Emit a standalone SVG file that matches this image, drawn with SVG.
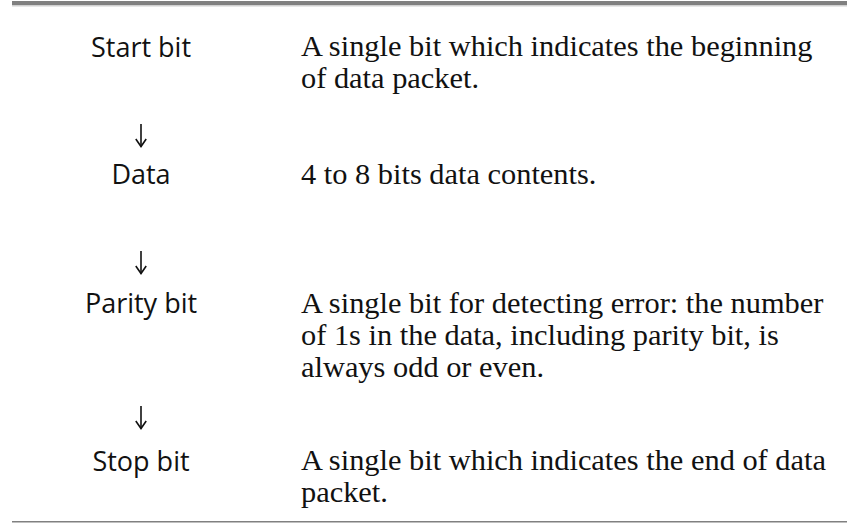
<svg xmlns="http://www.w3.org/2000/svg" width="849" height="524" viewBox="0 0 849 524">
  <style>
    .lbl { font-family: "Open Sans", "Noto Sans", sans-serif; font-size: 27px; fill: #111; text-anchor: middle; }
    .desc { font-family: "Liberation Serif", "Times New Roman", serif; font-size: 30.4px; fill: #111; }
    .conn { stroke: #111; stroke-width: 1.6; fill: none; }
    .rule { fill: #808080; }
  </style>
  <defs>
    <marker id="ah" viewBox="0 0 10 12" refX="9" refY="6" markerWidth="10" markerHeight="12" markerUnits="userSpaceOnUse" orient="auto">
      <path d="M1.5 0.8 L9 6 L1.5 11.2" fill="none" stroke="#111" stroke-width="1.6"/>
    </marker>
  </defs>
  <rect width="849" height="524" fill="#ffffff"/>
  <g id="frame">
    <rect class="rule" x="12" y="1" width="835" height="4"/>
    <rect x="12" y="5" width="835" height="1.5" fill="#d0d0d0"/>
    <rect class="rule" x="12" y="521" width="835" height="1.5"/>
  </g>
  <g id="start">
    <text class="lbl" x="141" y="57">Start bit</text>
    <text class="desc" x="301" y="56">A single bit which indicates the beginning</text>
    <text class="desc" x="301" y="88">of  data packet.</text>
  </g>
  <g id="data">
    <text class="lbl" x="141" y="184">Data</text>
    <text class="desc" x="301" y="184">4 to 8 bits data contents.</text>
  </g>
  <g id="parity">
    <text class="lbl" x="141" y="313">Parity bit</text>
    <text class="desc" x="301" y="313">A single bit for detecting error: the number</text>
    <text class="desc" x="301" y="345">of  1s in the data, including parity bit, is</text>
    <text class="desc" x="301" y="377">always odd or even.</text>
  </g>
  <g id="stop">
    <text class="lbl" x="141" y="471">Stop bit</text>
    <text class="desc" x="301" y="470">A single bit which indicates the end of  data</text>
    <text class="desc" x="301" y="502">packet.</text>
  </g>
  <g id="connectors">
    <path class="conn" d="M141 124 V146.5" marker-end="url(#ah)"/>
    <path class="conn" d="M141 251 V273.5" marker-end="url(#ah)"/>
    <path class="conn" d="M141 406 V428.5" marker-end="url(#ah)"/>
  </g>
</svg>
